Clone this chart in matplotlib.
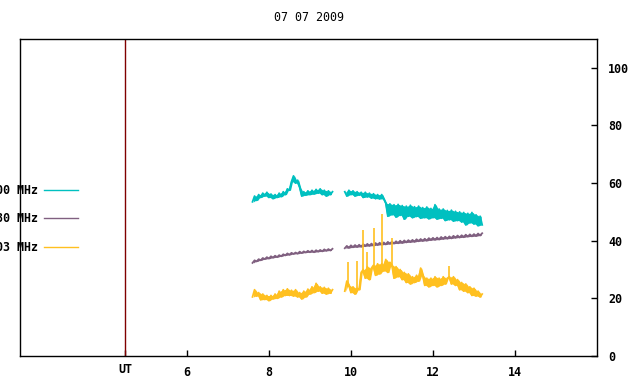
import numpy as np
import matplotlib.pyplot as plt
from matplotlib.transforms import ScaledTranslation

# time axes (UT hours) of the two recording blocks
t1 = np.round(np.arange(7.60, 9.56, 0.05), 2)
t2 = np.round(np.arange(9.85, 13.21, 0.05), 2)

cyan1 = [53.5, 55.5, 54, 56, 55, 56.5, 55.5, 56.8, 55, 56.2,
         54.6, 56, 55, 56.5, 55.3, 57, 56, 58, 57.5, 60.5,
         62.5, 60, 61, 58.5, 55.5, 57, 55.8, 57.3, 56, 57.5,
         56.2, 57.8, 56.5, 58, 56, 57.5, 55.5, 57.3, 56, 57]
cyan2 = [57, 55.5, 57.5, 56, 57.3, 55.5, 57, 55.8, 56.8, 55,
         56.8, 55.2, 56.5, 54.8, 56.3, 54.6, 56, 54.5, 56, 54.5,
         53, 48.5, 52.8, 49, 52.5, 48.2, 52.6, 48.8, 52.2, 47.5,
         52, 48.5, 52.3, 48, 51.8, 48.4, 52, 47.8, 51.5, 48,
         51.7, 47.6, 51.2, 48, 52.5, 47.5, 51, 47.8, 51, 47,
         50.5, 47.3, 50.6, 46.8, 50.2, 47, 50, 46.5, 49.8, 45.5,
         49.5, 46.2, 49.8, 45.8, 49, 45.2, 48.5, 45.5]

purple1 = [32.3, 33.2, 32.8, 33.6, 33.2, 34.0, 33.6, 34.3, 33.8, 34.6,
           34.1, 34.8, 34.3, 35.0, 34.6, 35.3, 34.9, 35.6, 35.1, 35.8,
           35.4, 35.9, 35.5, 36.2, 35.7, 36.3, 35.9, 36.5, 36.0, 36.6,
           36.0, 36.7, 36.2, 36.8, 36.3, 37.0, 36.5, 37.1, 36.6, 37.2]
purple2 = [37.4, 38.2, 37.5, 38.4, 37.7, 38.5, 37.8, 38.6, 37.9, 38.8,
           38.1, 38.9, 38.2, 39.0, 38.3, 39.2, 38.5, 39.3, 38.6, 39.4,
           38.7, 39.6, 38.9, 39.7, 39.0, 39.8, 39.1, 40.0, 39.2, 40.1,
           39.4, 40.2, 39.5, 40.3, 39.6, 40.5, 39.8, 40.6, 39.9, 40.7,
           40.0, 40.9, 40.2, 41.0, 40.3, 41.1, 40.4, 41.3, 40.6, 41.4,
           40.7, 41.5, 40.8, 41.7, 41.0, 41.8, 41.1, 41.9, 41.2, 42.1,
           41.4, 42.2, 41.5, 42.3, 41.6, 42.5, 41.8, 42.6]

yellow1 = [20.5, 23.0, 20.8, 22.0, 19.5, 21.5, 19.6, 21.0, 19.2, 21.0,
           19.8, 21.5, 20.0, 22.5, 20.5, 23.0, 21.0, 23.3, 21.0, 22.8,
           20.8, 23.0, 20.5, 22.0, 19.8, 22.5, 20.5, 23.2, 21.5, 24.0,
           22.0, 25.2, 22.5, 24.0, 21.8, 23.8, 21.5, 23.5, 21.8, 23.0]
yellow2 = [22.5, 26.0, 24.5, 22.0, 24.0, 21.5, 23.5, 23.0, 29.0, 30.0,
           27.0, 31.0, 26.5, 30.5, 31.5, 28.0, 32.0, 28.5, 32.0, 29.5,
           33.5, 29.0, 32.5, 31.5, 27.0, 31.0, 27.5, 30.0, 26.5, 29.0,
           25.5, 28.5, 25.0, 27.5, 25.5, 28.0, 26.0, 30.5, 28.0, 24.5,
           27.0, 24.0, 27.0, 24.5, 27.5, 24.0, 27.0, 24.5, 27.5, 25.0,
           27.0, 27.5, 25.0, 27.5, 24.5, 26.5, 23.0, 25.5, 22.5, 25.0,
           22.0, 24.0, 21.0, 23.5, 20.8, 22.5, 20.5, 21.5]

# narrow bursts on the lowest channel
spike_t = [9.93, 10.15, 10.29, 10.39, 10.56, 10.76, 11.00, 12.39]
spike_lo = [24.0, 23.0, 29.0, 30.0, 30.5, 31.0, 31.0, 27.0]
spike_hi = [32.5, 33.0, 43.6, 36.0, 44.3, 49.3, 41.0, 31.2]

labels = ['2800 MHz', '2980 MHz', '1003 MHz']
colors = ['#00c0c0', '#806080', '#ffc020']

xticks = [4.5, 6, 8, 10, 12, 14]
xticklabels = ['UT', '6', '8', '10', '12', '14']
yticks = [0, 20, 40, 60, 80, 100]

plt.rcParams['font.family'] = 'DejaVu Sans Mono'
plt.rcParams['font.weight'] = 'bold'
plt.rcParams['font.size'] = 8.4

fig = plt.figure(figsize=(6.4, 3.84), dpi=100)
ax = fig.add_axes([20 / 640, 28 / 384, 577 / 640, 317 / 384])

series = [(cyan1, cyan2), (purple1, purple2), (yellow1, yellow2)]
for (a, b), lab, col in zip(series, labels, colors):
    for t, v, l in [(t1, a, lab), (t2, b, None)]:
        v = np.asarray(v)
        tm = (t[:-1] + t[1:]) / 2
        # noisy band: fill between neighbouring samples
        ax.fill_between(tm, np.minimum(v[:-1], v[1:]), np.maximum(v[:-1], v[1:]),
                        color=col, lw=0)
        ax.plot(t, v, color=col, lw=1.3, label=l)

ax.vlines(spike_t, spike_lo, spike_hi, color=colors[2], lw=1.2)

ax.axvline(4.5, color='#800000', lw=1)

ax.set_xlim(1.93, 16)
ax.set_ylim(0, 110)
ax.set_xticks(xticks)
ax.set_xticklabels(xticklabels)
ax.set_yticks(yticks)
ax.yaxis.tick_right()
ax.tick_params(axis='both', direction='in', length=4, width=1, color='black')
ax.tick_params(axis='x', pad=7)
ax.tick_params(axis='y', pad=8)
for s in ax.spines.values():
    s.set_linewidth(1)

# the UT label sits a little higher than the hour numbers
ut = ax.get_xticklabels()[0]
ut.set_transform(ut.get_transform() + ScaledTranslation(0, 3 / 100, fig.dpi_scale_trans))

ax.set_title('07 07 2009', fontsize=8.4, pad=13)

leg = ax.legend(loc='center right', bbox_to_anchor=(78 / 640, 1 - 219 / 384),
                bbox_transform=fig.transFigure, markerfirst=False, frameon=False,
                handlelength=2.9, handletextpad=0.5, labelspacing=1.35,
                borderpad=0, borderaxespad=0)
for h in leg.get_lines():
    h.set_linewidth(1)

plt.savefig('out.png')
